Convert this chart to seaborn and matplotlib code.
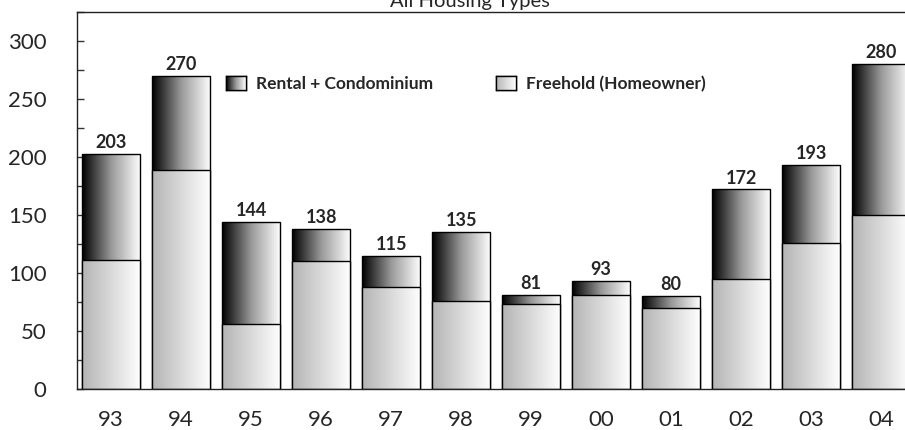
import numpy as np
import pandas as pd
import seaborn as sns
import matplotlib.pyplot as plt
from matplotlib.colors import LinearSegmentedColormap
from matplotlib.patches import Patch
from matplotlib.ticker import MultipleLocator

# data
years = ["93", "94", "95", "96", "97", "98", "99", "00", "01", "02", "03", "04"]
totals = [203, 270, 144, 138, 115, 135, 81, 93, 80, 172, 193, 280]
freehold = [111, 189, 56, 110, 88, 76, 73, 81, 70, 95, 126, 150]
labels = ["Rental + Condominium", "Freehold (Homeowner)"]

df = pd.DataFrame({"year": years, "total": totals, "freehold": freehold})

sns.set_theme(style="white")
plt.rcParams["font.family"] = ["Lato", "DejaVu Sans"]

dark_cmap = LinearSegmentedColormap.from_list("dark", ["#000000", "#9a9a9a", "#ffffff"])
light_cmap = LinearSegmentedColormap.from_list("light", ["#b4b4b4", "#ffffff"])
grad = np.linspace(0, 1, 256).reshape(1, -1)

fig, ax = plt.subplots(figsize=(9.05, 4.30), dpi=100)
fig.subplots_adjust(left=77 / 905, right=1.0, bottom=41 / 430, top=418 / 430)

sns.barplot(data=df, x="year", y="total", ax=ax, width=0.83, color="white",
            edgecolor="black", linewidth=1, errorbar=None)
n_total = len(ax.patches)
sns.barplot(data=df, x="year", y="freehold", ax=ax, width=0.83, color="white",
            edgecolor="black", linewidth=1, errorbar=None)

# gradient fills clipped to each bar
for i, p in enumerate(ax.patches):
    x, y = p.get_x(), p.get_y()
    w, h = p.get_width(), p.get_height()
    top = i < n_total
    p.set_facecolor("none")
    p.set_zorder(2.0 if top else 2.2)
    im = ax.imshow(grad, cmap=dark_cmap if top else light_cmap, aspect="auto",
                   extent=[x, x + w, y, y + h], zorder=1.9 if top else 2.1,
                   interpolation="bilinear")
    im.set_clip_path(p)

# total labels
for i, p in enumerate(ax.patches[:n_total]):
    ax.text(p.get_x() + p.get_width() / 2, p.get_height() + 2.5, str(totals[i]),
            ha="center", va="bottom", fontsize=13, fontweight="bold")

ax.set_xlim(-0.486, 11.34)
ax.set_ylim(0, 325)
ax.yaxis.set_major_locator(MultipleLocator(50))
ax.yaxis.set_minor_locator(MultipleLocator(25))
ax.set_xlabel("")
ax.set_ylabel("")

ax.tick_params(axis="y", which="both", direction="in", length=5, width=1,
               color="#333333", left=True, labelsize=16, pad=22)
ax.tick_params(axis="x", direction="in", length=8.5, width=1, color="#333333",
               bottom=True, labelsize=16, pad=15)
for s in ["left", "bottom", "top"]:
    ax.spines[s].set_color("#222222")
    ax.spines[s].set_linewidth(1)
ax.spines["right"].set_visible(False)

fig.text(470 / 905, 423.5 / 430, "All Housing Types", ha="center", va="baseline",
         fontsize=14.5)

handles = [Patch(facecolor="white", edgecolor="black"),
           Patch(facecolor="white", edgecolor="black")]
leg = ax.legend(handles, labels, ncol=2, frameon=False, loc="center left",
                bbox_to_anchor=(226 / 905, 346 / 430), bbox_transform=fig.transFigure,
                borderpad=0, borderaxespad=0, handlelength=1.15, handleheight=0.9,
                handletextpad=0.6, columnspacing=3.6,
                prop={"weight": "bold", "size": 12.5})

# gradient swatches over the legend handles
fig.canvas.draw()
inv = fig.transFigure.inverted()
for h, cm in zip(leg.legend_handles, [dark_cmap, light_cmap]):
    bb = h.get_window_extent().transformed(inv)
    sw = fig.add_axes([bb.x0, bb.y0, bb.width, bb.height])
    sw.imshow(grad, cmap=cm, aspect="auto", interpolation="bilinear")
    sw.set_xticks([])
    sw.set_yticks([])
    for s in sw.spines.values():
        s.set_color("black")
        s.set_linewidth(1)

fig.savefig("out.png", dpi=100)
